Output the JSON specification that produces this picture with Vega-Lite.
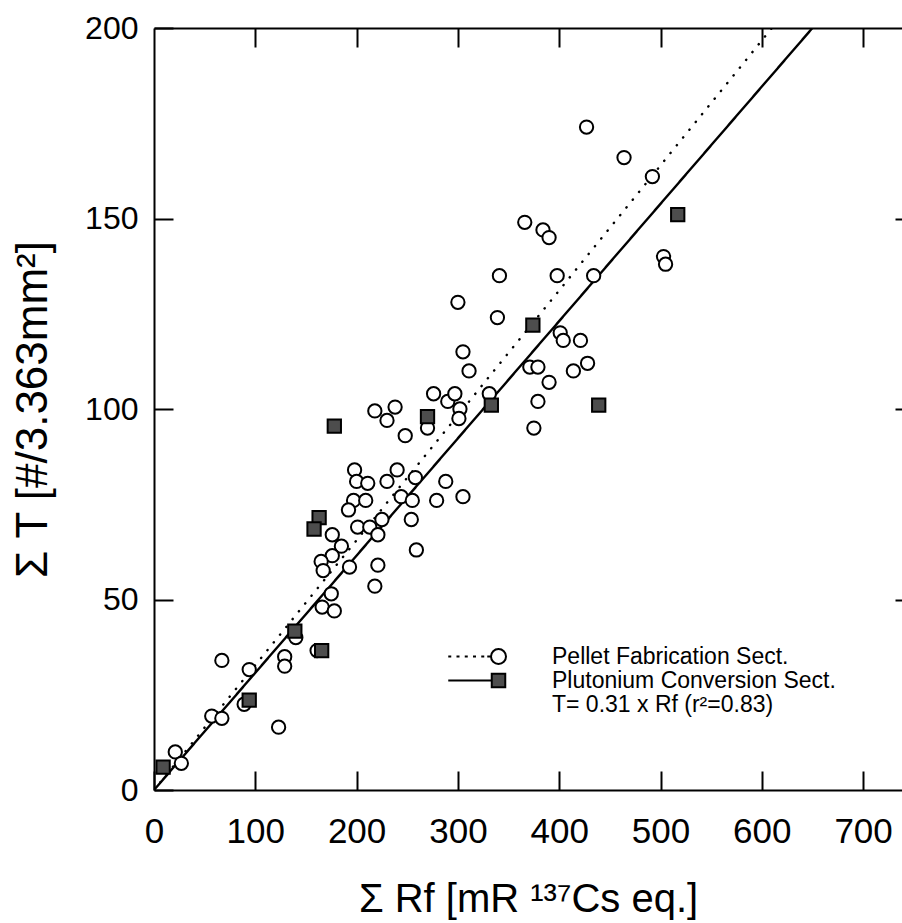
{
  "$schema": "https://vega.github.io/schema/vega-lite/v6.json",
  "width": 748,
  "height": 762,
  "autosize": "none",
  "padding": {"left": 154, "top": 28, "right": 0, "bottom": 133},
  "background": "white",
  "config": {"view": {"stroke": null}, "font": "Liberation Sans"},
  "datasets": {
    "fits": [
      {"rf": 0, "t": 0, "sect": "Pellet Fabrication Sect."},
      {"rf": 610, "t": 200, "sect": "Pellet Fabrication Sect."},
      {"rf": 0, "t": 0, "sect": "Plutonium Conversion Sect."},
      {"rf": 650, "t": 200, "sect": "Plutonium Conversion Sect."}
    ],
    "pts": [
      {"rf": 427, "t": 174, "sect": "Pellet Fabrication Sect."},
      {"rf": 464, "t": 166, "sect": "Pellet Fabrication Sect."},
      {"rf": 492, "t": 161, "sect": "Pellet Fabrication Sect."},
      {"rf": 366, "t": 149, "sect": "Pellet Fabrication Sect."},
      {"rf": 384, "t": 147, "sect": "Pellet Fabrication Sect."},
      {"rf": 390, "t": 145, "sect": "Pellet Fabrication Sect."},
      {"rf": 503, "t": 140, "sect": "Pellet Fabrication Sect."},
      {"rf": 505, "t": 138, "sect": "Pellet Fabrication Sect."},
      {"rf": 341, "t": 135, "sect": "Pellet Fabrication Sect."},
      {"rf": 398, "t": 135, "sect": "Pellet Fabrication Sect."},
      {"rf": 434, "t": 135, "sect": "Pellet Fabrication Sect."},
      {"rf": 300, "t": 128, "sect": "Pellet Fabrication Sect."},
      {"rf": 339, "t": 124, "sect": "Pellet Fabrication Sect."},
      {"rf": 305, "t": 115, "sect": "Pellet Fabrication Sect."},
      {"rf": 311, "t": 110, "sect": "Pellet Fabrication Sect."},
      {"rf": 401, "t": 120, "sect": "Pellet Fabrication Sect."},
      {"rf": 404, "t": 118, "sect": "Pellet Fabrication Sect."},
      {"rf": 421, "t": 118, "sect": "Pellet Fabrication Sect."},
      {"rf": 428, "t": 112, "sect": "Pellet Fabrication Sect."},
      {"rf": 414, "t": 110, "sect": "Pellet Fabrication Sect."},
      {"rf": 371, "t": 111, "sect": "Pellet Fabrication Sect."},
      {"rf": 379, "t": 111, "sect": "Pellet Fabrication Sect."},
      {"rf": 390, "t": 107, "sect": "Pellet Fabrication Sect."},
      {"rf": 379, "t": 102, "sect": "Pellet Fabrication Sect."},
      {"rf": 375, "t": 95, "sect": "Pellet Fabrication Sect."},
      {"rf": 331, "t": 104, "sect": "Pellet Fabrication Sect."},
      {"rf": 276, "t": 104, "sect": "Pellet Fabrication Sect."},
      {"rf": 290, "t": 102, "sect": "Pellet Fabrication Sect."},
      {"rf": 297, "t": 104, "sect": "Pellet Fabrication Sect."},
      {"rf": 302, "t": 100, "sect": "Pellet Fabrication Sect."},
      {"rf": 301, "t": 97.5, "sect": "Pellet Fabrication Sect."},
      {"rf": 218, "t": 99.5, "sect": "Pellet Fabrication Sect."},
      {"rf": 238, "t": 100.5, "sect": "Pellet Fabrication Sect."},
      {"rf": 230, "t": 97, "sect": "Pellet Fabrication Sect."},
      {"rf": 248, "t": 93, "sect": "Pellet Fabrication Sect."},
      {"rf": 270, "t": 95, "sect": "Pellet Fabrication Sect."},
      {"rf": 198, "t": 84, "sect": "Pellet Fabrication Sect."},
      {"rf": 200, "t": 81, "sect": "Pellet Fabrication Sect."},
      {"rf": 211, "t": 80.5, "sect": "Pellet Fabrication Sect."},
      {"rf": 230, "t": 81, "sect": "Pellet Fabrication Sect."},
      {"rf": 240, "t": 84, "sect": "Pellet Fabrication Sect."},
      {"rf": 258, "t": 82, "sect": "Pellet Fabrication Sect."},
      {"rf": 288, "t": 81, "sect": "Pellet Fabrication Sect."},
      {"rf": 305, "t": 77, "sect": "Pellet Fabrication Sect."},
      {"rf": 244, "t": 77, "sect": "Pellet Fabrication Sect."},
      {"rf": 255, "t": 76, "sect": "Pellet Fabrication Sect."},
      {"rf": 279, "t": 76, "sect": "Pellet Fabrication Sect."},
      {"rf": 197, "t": 76, "sect": "Pellet Fabrication Sect."},
      {"rf": 209, "t": 76, "sect": "Pellet Fabrication Sect."},
      {"rf": 192, "t": 73.5, "sect": "Pellet Fabrication Sect."},
      {"rf": 254, "t": 71, "sect": "Pellet Fabrication Sect."},
      {"rf": 201, "t": 69, "sect": "Pellet Fabrication Sect."},
      {"rf": 213, "t": 69, "sect": "Pellet Fabrication Sect."},
      {"rf": 225, "t": 71, "sect": "Pellet Fabrication Sect."},
      {"rf": 221, "t": 67, "sect": "Pellet Fabrication Sect."},
      {"rf": 176, "t": 67, "sect": "Pellet Fabrication Sect."},
      {"rf": 185, "t": 64, "sect": "Pellet Fabrication Sect."},
      {"rf": 259, "t": 63, "sect": "Pellet Fabrication Sect."},
      {"rf": 176, "t": 61.5, "sect": "Pellet Fabrication Sect."},
      {"rf": 165, "t": 60, "sect": "Pellet Fabrication Sect."},
      {"rf": 167, "t": 57.6, "sect": "Pellet Fabrication Sect."},
      {"rf": 193, "t": 58.5, "sect": "Pellet Fabrication Sect."},
      {"rf": 221, "t": 59, "sect": "Pellet Fabrication Sect."},
      {"rf": 218, "t": 53.5, "sect": "Pellet Fabrication Sect."},
      {"rf": 175, "t": 51.5, "sect": "Pellet Fabrication Sect."},
      {"rf": 166, "t": 48, "sect": "Pellet Fabrication Sect."},
      {"rf": 178, "t": 47, "sect": "Pellet Fabrication Sect."},
      {"rf": 140, "t": 40, "sect": "Pellet Fabrication Sect."},
      {"rf": 67, "t": 34, "sect": "Pellet Fabrication Sect."},
      {"rf": 129, "t": 35, "sect": "Pellet Fabrication Sect."},
      {"rf": 129, "t": 32.5, "sect": "Pellet Fabrication Sect."},
      {"rf": 94, "t": 31.6, "sect": "Pellet Fabrication Sect."},
      {"rf": 161, "t": 36.6, "sect": "Pellet Fabrication Sect."},
      {"rf": 57, "t": 19.4, "sect": "Pellet Fabrication Sect."},
      {"rf": 67, "t": 18.8, "sect": "Pellet Fabrication Sect."},
      {"rf": 89, "t": 22.5, "sect": "Pellet Fabrication Sect."},
      {"rf": 123, "t": 16.5, "sect": "Pellet Fabrication Sect."},
      {"rf": 21, "t": 10, "sect": "Pellet Fabrication Sect."},
      {"rf": 27, "t": 7, "sect": "Pellet Fabrication Sect."},
      {"rf": 178, "t": 95.5, "sect": "Plutonium Conversion Sect."},
      {"rf": 270, "t": 98, "sect": "Plutonium Conversion Sect."},
      {"rf": 333, "t": 101, "sect": "Plutonium Conversion Sect."},
      {"rf": 374, "t": 122, "sect": "Plutonium Conversion Sect."},
      {"rf": 517, "t": 151, "sect": "Plutonium Conversion Sect."},
      {"rf": 439, "t": 101, "sect": "Plutonium Conversion Sect."},
      {"rf": 163, "t": 71.5, "sect": "Plutonium Conversion Sect."},
      {"rf": 158, "t": 68.5, "sect": "Plutonium Conversion Sect."},
      {"rf": 139, "t": 41.7, "sect": "Plutonium Conversion Sect."},
      {"rf": 165.5, "t": 36.6, "sect": "Plutonium Conversion Sect."},
      {"rf": 94, "t": 23.6, "sect": "Plutonium Conversion Sect."},
      {"rf": 9, "t": 6, "sect": "Plutonium Conversion Sect."}
    ]
  },
  "layer": [
    {
      "data": {"name": "fits"},
      "mark": {"type": "line", "color": "black", "strokeWidth": 2.4, "strokeCap": "round", "clip": true},
      "encoding": {
        "x": {
          "field": "rf", "type": "quantitative",
          "scale": {"domain": [0, 738.4], "nice": false, "zero": false},
          "axis": {
            "orient": "bottom", "values": [0, 100, 200, 300, 400, 500, 600, 700],
            "tickSize": -19, "tickWidth": 2, "tickColor": "black",
            "domainColor": "black", "domainWidth": 2, "grid": false,
            "labelFont": "Liberation Sans", "labelFontSize": 35, "labelColor": "black",
            "labelPadding": 43, "labelFlush": false, "labelOverlap": false,
            "title": "Σ Rf [mR ¹³⁷Cs eq.]", "titleFont": "Liberation Sans",
            "titleFontSize": 40, "titleFontWeight": "normal", "titleColor": "black",
            "titlePadding": 30
          }
        },
        "y": {
          "field": "t", "type": "quantitative",
          "scale": {"domain": [0, 200], "nice": false, "zero": false},
          "axis": {
            "orient": "left", "values": [0, 50, 100, 150, 200],
            "tickSize": -19, "tickWidth": 2, "tickColor": "black",
            "domainColor": "black", "domainWidth": 2, "grid": false,
            "labelFont": "Liberation Sans", "labelFontSize": 32, "labelColor": "black",
            "labelPadding": 35, "labelFlush": false, "labelOverlap": false,
            "title": "Σ T [#/3.363mm²]", "titleFont": "Liberation Sans",
            "titleFontSize": 44, "titleFontWeight": "normal", "titleColor": "black",
            "titlePadding": 29
          }
        },
        "detail": {"field": "sect", "type": "nominal"},
        "strokeDash": {
          "field": "sect", "type": "nominal",
          "scale": {"domain": ["Pellet Fabrication Sect.", "Plutonium Conversion Sect."], "range": [[0.3, 9.7], [1, 0]]},
          "legend": null
        }
      }
    },
    {
      "data": {"name": "pts"},
      "mark": {"type": "point", "filled": true, "stroke": "black", "strokeWidth": 2, "size": 177, "opacity": 1},
      "encoding": {
        "x": {
          "field": "rf", "type": "quantitative",
          "axis": {
            "orient": "top", "values": [100, 200, 300, 400, 500, 600, 700],
            "tickSize": -19, "tickWidth": 2, "tickColor": "black",
            "domainColor": "black", "domainWidth": 2, "grid": false,
            "labels": false, "title": null
          }
        },
        "y": {
          "field": "t", "type": "quantitative",
          "axis": {
            "orient": "right", "values": [50, 100, 150],
            "tickSize": -7, "tickWidth": 2, "tickColor": "black",
            "domain": false, "grid": false, "labels": false, "title": null
          }
        },
        "fill": {
          "field": "sect", "type": "nominal",
          "scale": {"domain": ["Pellet Fabrication Sect.", "Plutonium Conversion Sect."], "range": ["white", "#4d4d4d"]},
          "legend": null
        },
        "shape": {
          "field": "sect", "type": "nominal",
          "scale": {"domain": ["Pellet Fabrication Sect.", "Plutonium Conversion Sect."], "range": ["circle", "square"]},
          "legend": null
        }
      }
    },
    {
      "data": {"name": "pts"},
      "transform": [{"filter": "false"}],
      "mark": {"type": "point", "filled": true, "stroke": "black", "strokeWidth": 2, "opacity": 1},
      "encoding": {
        "fill": {
          "field": "sect", "type": "nominal",
          "scale": {"domain": ["Pellet Fabrication Sect.", "Plutonium Conversion Sect.", "T= 0.31 x Rf (r²=0.83)"], "range": ["white", "#4d4d4d", "white"]},
          "legend": {
            "orient": "none", "legendX": 333, "legendY": 617,
            "title": null, "padding": 0, "rowPadding": -6,
            "symbolSize": 225, "symbolStrokeWidth": 2,
            "labelFont": "Liberation Sans", "labelFontSize": 23, "labelColor": "black",
            "labelOffset": 42, "labelLimit": 0
          }
        },
        "shape": {
          "field": "sect", "type": "nominal",
          "scale": {"domain": ["Pellet Fabrication Sect.", "Plutonium Conversion Sect.", "T= 0.31 x Rf (r²=0.83)"], "range": ["M-6.7,0h0.4M-5.6,0h0.4M-4.5,0h0.4M-3.4,0h0.4M-2.3,0h0.4M-1.5,0h0.5M1,0A1,1,0,1,1,-1,0A1,1,0,1,1,1,0Z", "M-6.7,0H-1M-0.9,-0.9H0.9V0.9H-0.9Z", "M0,0"]},
          "legend": {
            "orient": "none", "legendX": 333, "legendY": 617,
            "title": null, "padding": 0, "rowPadding": -6,
            "symbolSize": 225, "symbolStrokeWidth": 2,
            "labelFont": "Liberation Sans", "labelFontSize": 23, "labelColor": "black",
            "labelOffset": 42, "labelLimit": 0
          }
        }
      }
    }
  ],
  "resolve": {
    "axis": {"x": "independent", "y": "independent"},
    "scale": {"shape": "independent", "fill": "independent"}
  }
}
